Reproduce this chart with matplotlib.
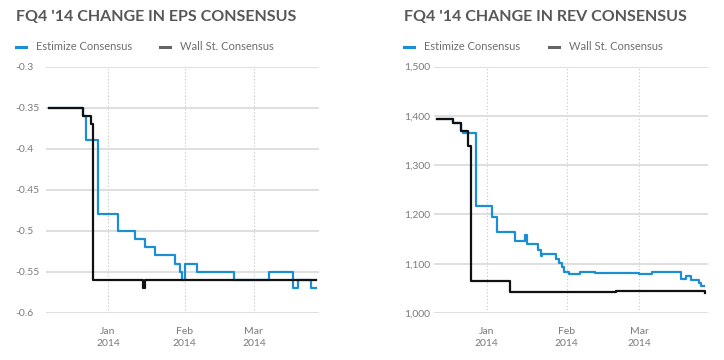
import pandas as pd
import numpy as np
import matplotlib
matplotlib.use('Agg')
import matplotlib.pyplot as plt
import matplotlib.dates as mdates
from matplotlib.lines import Line2D

plt.rcParams['font.family'] = ['Lato', 'DejaVu Sans']

BLUE = '#1b8fd2'
BLACK = '#111111'
GREY = '#7a7a7a'

# ---- EPS data (step changes) ----
eps_ws_dates = ['2013-12-08', '2013-12-22', '2013-12-25', '2013-12-26',
                '2014-01-15', '2014-01-16', '2014-03-26']
eps_ws_vals = [-0.35, -0.36, -0.37, -0.56, -0.57, -0.56, -0.56]

eps_est_dates = ['2013-12-08', '2013-12-22', '2013-12-23', '2013-12-28',
                 '2014-01-05', '2014-01-12', '2014-01-16', '2014-01-20',
                 '2014-01-28', '2014-01-30', '2014-01-31', '2014-02-01',
                 '2014-02-06', '2014-02-21', '2014-03-07', '2014-03-17',
                 '2014-03-19', '2014-03-24', '2014-03-26']
eps_est_vals = [-0.35, -0.36, -0.39, -0.48, -0.50, -0.51, -0.52, -0.53,
                -0.54, -0.55, -0.56, -0.54, -0.55, -0.56, -0.55, -0.57,
                -0.56, -0.57, -0.57]

# ---- Revenue data ----
rev_ws_dates = ['2013-12-13', '2013-12-19', '2013-12-22', '2013-12-25',
                '2013-12-26', '2014-01-10', '2014-02-20', '2014-03-26',
                '2014-03-26 12:00']
rev_ws_vals = [1394, 1385, 1370, 1338, 1065, 1043, 1045, 1045, 1040]

rev_est_dates = ['2013-12-13', '2013-12-19', '2013-12-22', '2013-12-23', '2013-12-28',
                 '2014-01-03', '2014-01-05', '2014-01-12', '2014-01-16',
                 '2014-01-16 12:00', '2014-01-21', '2014-01-22', '2014-01-22 12:00',
                 '2014-01-28', '2014-01-29', '2014-01-30', '2014-01-31',
                 '2014-02-02', '2014-02-06', '2014-02-12', '2014-02-20',
                 '2014-02-25', '2014-03-01', '2014-03-06', '2014-03-17',
                 '2014-03-19', '2014-03-21', '2014-03-24', '2014-03-25',
                 '2014-03-26']
rev_est_vals = [1394, 1385, 1370, 1366, 1217, 1194, 1165, 1147, 1158,
                1140, 1128, 1116, 1120,
                1109, 1102, 1094, 1083,
                1079, 1084, 1082, 1081,
                1082, 1080, 1084, 1069,
                1075, 1066, 1060, 1054,
                1054]


def to_dt(lst):
    return pd.to_datetime(lst, format='mixed')


fig = plt.figure(figsize=(7.24, 3.6), dpi=100)
W, H = 724.0, 360.0


def make_axes(x0, x1, title, legend_x, xlim):
    ax = fig.add_axes([x0 / W, 1 - 313 / H, (x1 - x0) / W, (313 - 66.5) / H])
    for s in ax.spines.values():
        s.set_visible(False)
    ax.grid(axis='y', color='#dcdcdc', linewidth=1.3)
    ax.set_axisbelow(True)
    ax.set_xlim(pd.Timestamp(xlim[0]), pd.Timestamp(xlim[1]))
    months = pd.to_datetime(['2014-01-01', '2014-02-01', '2014-03-01'])
    for m in months:
        ax.axvline(m, color='#c4c4c4', linewidth=0.8, linestyle=(0, (1, 2)), zorder=0)
    ax.set_xticks(months)
    ax.set_xticklabels(['Jan\n2014', 'Feb\n2014', 'Mar\n2014'], linespacing=1.45)
    ax.tick_params(axis='both', length=0, colors=GREY, labelsize=7.5)
    ax.tick_params(axis='x', pad=10)
    ax.tick_params(axis='y', pad=22)
    fig.text(legend_x[0] / W, 1 - 17 / H, title, fontsize=11.5, fontweight='bold',
             color='#575757', va='center', ha='left')
    # legend
    ly = 1 - 47 / H
    for lx, col, txt in [(legend_x[0], BLUE, 'Estimize Consensus'),
                         (legend_x[1], '#666666', 'Wall St. Consensus')]:
        fig.add_artist(Line2D([lx / W, (lx + 10) / W], [ly, ly], color=col, linewidth=2.2))
        fig.text((lx + 20) / W, ly, txt, fontsize=8, color='#6e6e6e', va='center', ha='left')
    return ax


ax1 = make_axes(46, 319, "FQ4 '14 CHANGE IN EPS CONSENSUS", (16, 160),
                ('2013-12-06 22:00', '2014-03-27 08:00'))
ax1.step(to_dt(eps_est_dates), eps_est_vals, where='post', color=BLUE, linewidth=1.6, zorder=3)
ax1.step(to_dt(eps_ws_dates), eps_ws_vals, where='post', color=BLACK, linewidth=1.6, zorder=4)
ax1.set_ylim(-0.6, -0.3)
ax1.set_yticks([-0.6, -0.55, -0.5, -0.45, -0.4, -0.35, -0.3])
ax1.set_yticklabels(['-0.6', '-0.55', '-0.5', '-0.45', '-0.4', '-0.35', '-0.3'])
for lbl in ax1.get_yticklabels():
    lbl.set_horizontalalignment('left')

ax2 = make_axes(433.7, 707.7, "FQ4 '14 CHANGE IN REV CONSENSUS", (404, 549),
                ('2013-12-11 14:00', '2014-03-27 10:00'))
ax2.step(to_dt(rev_est_dates), rev_est_vals, where='post', color=BLUE, linewidth=1.6, zorder=3)
ax2.step(to_dt(rev_ws_dates), rev_ws_vals, where='post', color=BLACK, linewidth=1.6, zorder=4)
ax2.set_ylim(1000, 1500)
ax2.set_yticks([1000, 1100, 1200, 1300, 1400, 1500])
ax2.set_yticklabels(['1,000', '1,100', '1,200', '1,300', '1,400', '1,500'])
ax2.tick_params(axis='y', pad=21)
for lbl in ax2.get_yticklabels():
    lbl.set_horizontalalignment('left')

fig.savefig('out.png', dpi=100)
